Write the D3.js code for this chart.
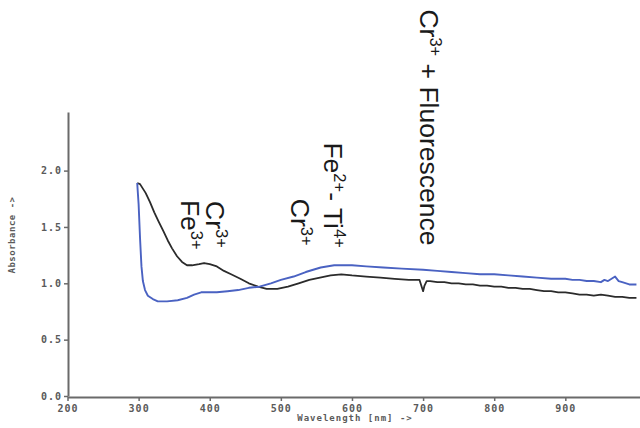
<!DOCTYPE html>
<html>
<head>
<meta charset="utf-8">
<script src="https://cdn.jsdelivr.net/npm/d3@7/dist/d3.min.js"></script>
<style>
  html, body { margin: 0; padding: 0; background: #ffffff; }
  svg { display: block; }
</style>
</head>
<body>
<svg id="chart" width="640" height="428"></svg>
<script>
// ---- data ----
const xTicks = [200, 300, 400, 500, 600, 700, 800, 900];
const yTicks = [0.0, 0.5, 1.0, 1.5, 2.0];

const blackWavelength = [298,302,306,310,316,322,328,335,341,347,354,361,368,375,385,392,400,410,420,430,443,455,468,480,495,510,525,540,555,570,585,600,620,640,660,680,695,698,700,702,705,710,720,730,740,750,760,770,780,790,800,810,820,830,840,850,860,870,880,890,900,910,920,930,940,950,960,970,980,990,1000];
const blackAbs = [1.89,1.88,1.84,1.80,1.72,1.63,1.55,1.46,1.38,1.31,1.24,1.19,1.16,1.16,1.17,1.18,1.17,1.15,1.11,1.08,1.04,1.00,0.97,0.95,0.95,0.97,1.00,1.03,1.05,1.07,1.08,1.07,1.06,1.05,1.04,1.03,1.03,0.97,0.93,0.98,1.02,1.02,1.01,1.01,1.00,1.00,0.99,0.99,0.98,0.98,0.97,0.97,0.96,0.96,0.95,0.95,0.94,0.93,0.93,0.92,0.92,0.91,0.90,0.90,0.89,0.90,0.89,0.88,0.88,0.87,0.87];

const blueWavelength = [298,300,302,304,306,309,313,320,327,340,355,368,378,388,398,410,425,440,455,470,486,500,518,535,556,575,600,620,644,670,700,720,740,760,780,800,820,840,860,880,900,910,920,930,940,950,955,960,965,970,975,980,990,1000];
const blueAbs = [1.89,1.70,1.40,1.15,1.02,0.94,0.89,0.86,0.84,0.84,0.85,0.87,0.90,0.92,0.92,0.92,0.93,0.94,0.96,0.97,1.00,1.03,1.06,1.10,1.14,1.16,1.16,1.15,1.14,1.13,1.12,1.11,1.10,1.09,1.08,1.08,1.07,1.06,1.05,1.04,1.04,1.03,1.03,1.02,1.02,1.01,1.03,1.02,1.04,1.06,1.02,1.01,0.99,0.99];

// annotation anchors (wavelength, absorbance) and text parts ([text, isSuperscript])
const annotations = [
  { nm: 360, v: 1.74, parts: [["Fe",0],["3+",1]] },
  { nm: 395, v: 1.73, parts: [["Cr",0],["3+",1]] },
  { nm: 514, v: 1.75, parts: [["Cr",0],["3+",1]] },
  { nm: 560, v: 2.25, parts: [["Fe",0],["2+",1],["- Ti",0],["4+",1]] },
  { nm: 695, v: 3.43, parts: [["Cr",0],["3+",1],[" + Fluorescence",0]] }
];

// ---- layout ----
const svg = d3.select("#chart");
const x = d3.scaleLinear().domain([200, 1005]).range([67.5, 640]);
const y = d3.scaleLinear().domain([0, 2.52]).range([396, 112]);

const monoFont = "'DejaVu Sans Mono', monospace";
const axisColor = "#6a6a6a";

// y axis
const gy = svg.append("g").attr("transform", "translate(68,0)")
  .call(d3.axisLeft(y).tickValues(yTicks).tickFormat(d3.format(".1f")).tickSize(4).tickSizeOuter(0).tickPadding(2));
// x axis
const gx = svg.append("g").attr("transform", "translate(0,397)")
  .call(d3.axisBottom(x).tickValues(xTicks).tickFormat(d3.format("d")).tickSize(4).tickSizeOuter(0).tickPadding(3));

[gx, gy].forEach(g => {
  g.select(".domain").attr("stroke", axisColor).attr("stroke-width", 2);
  g.selectAll(".tick line").attr("stroke", axisColor).attr("stroke-width", 1.5);
  g.selectAll(".tick text")
    .attr("fill", "#5a5a5a")
    .style("font-family", monoFont)
    .style("font-size", "10px")
    .style("font-weight", "bold")
    .style("letter-spacing", "1px");
});
gx.selectAll(".tick text").attr("dy", "0.75em");

// axis titles
svg.append("text")
  .attr("x", 355).attr("y", 421)
  .attr("text-anchor", "middle")
  .attr("fill", "#5a5a5a")
  .style("font-family", monoFont).style("font-size", "9px").style("font-weight", "bold")
  .style("letter-spacing", "1px")
  .text("Wavelength [nm] ->");

svg.append("text")
  .attr("transform", "translate(15,235) rotate(-90)")
  .attr("text-anchor", "middle")
  .attr("fill", "#5a5a5a")
  .style("font-family", monoFont).style("font-size", "9px").style("font-weight", "bold")
  .style("letter-spacing", "0.5px")
  .text("Absorbance ->");

// series
const line = d3.line().x(d => x(d[0])).y(d => y(d[1]));
const blackData = blackWavelength.map((w, i) => [w, blackAbs[i]]);
const blueData = blueWavelength.map((w, i) => [w, blueAbs[i]]);

svg.append("path").datum(blackData)
  .attr("d", line).attr("fill", "none")
  .attr("stroke", "#2b2b2b").attr("stroke-width", 1.8).attr("stroke-linejoin", "round");

svg.append("path").datum(blueData)
  .attr("d", line).attr("fill", "none")
  .attr("stroke", "#4a62c2").attr("stroke-width", 1.9).attr("stroke-linejoin", "round");

// annotations (rotated, reading top to bottom)
annotations.forEach(a => {
  const t = svg.append("text")
    .attr("transform", `translate(${x(a.nm)},${y(a.v)}) rotate(90)`)
    .attr("fill", "#1a1a1a")
    .style("font-family", "'Liberation Sans', Arial, sans-serif")
    .style("font-size", "26.5px");
  let shifted = false;
  a.parts.forEach(([s, sup]) => {
    const ts = t.append("tspan").text(s);
    if (sup) {
      ts.style("font-size", "16.5px").attr("dy", shifted ? 0 : -10);
      shifted = true;
    } else {
      ts.style("font-size", "26.5px").attr("dy", shifted ? 10 : 0);
      shifted = false;
    }
  });
});
</script>
</body>
</html>
